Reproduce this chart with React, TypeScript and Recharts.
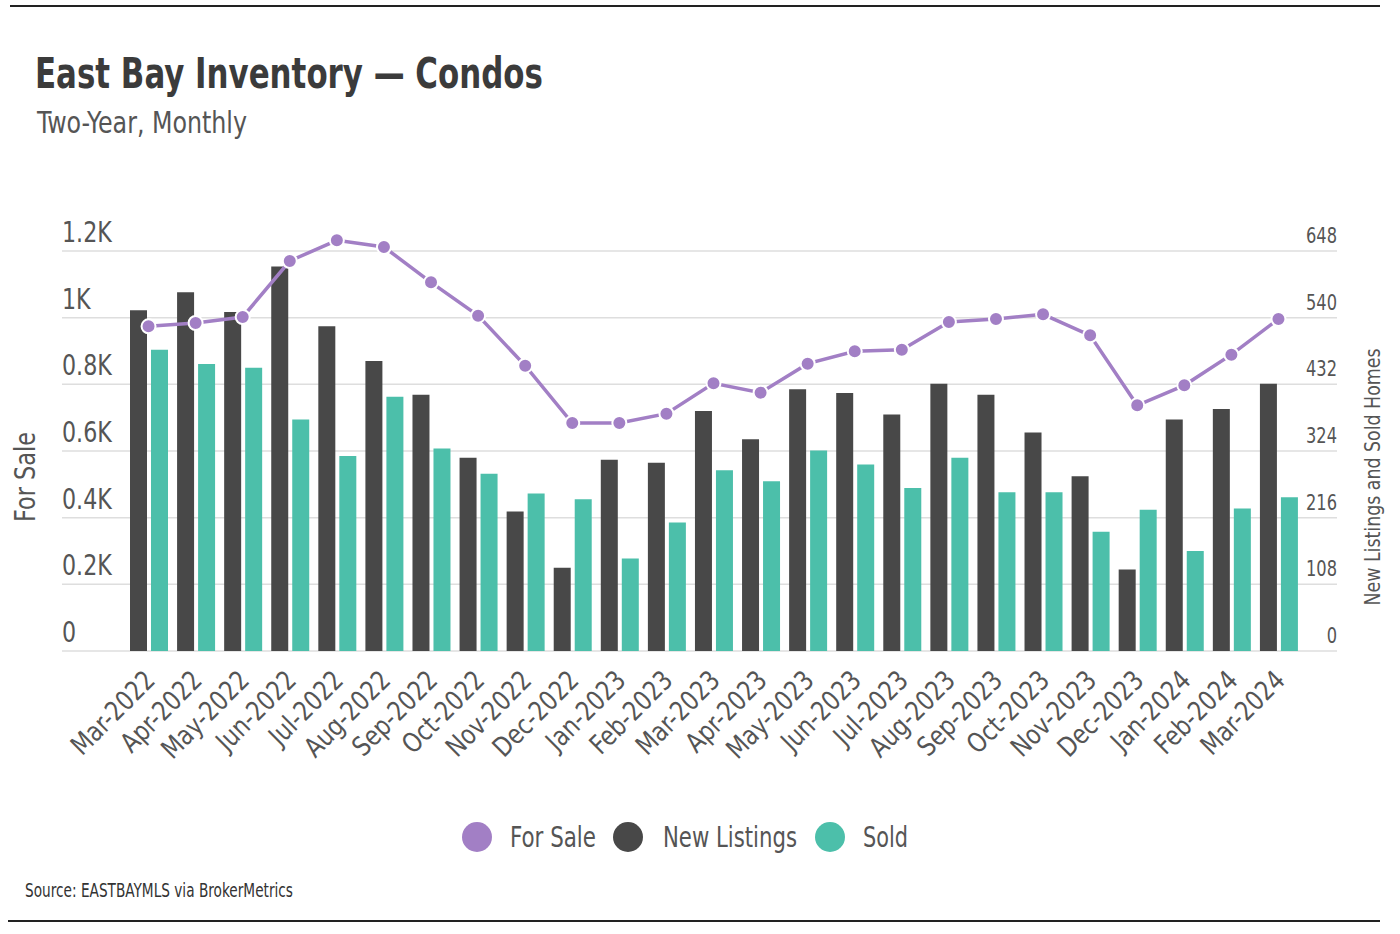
import React from "react";
import { ComposedChart, Bar, Line, XAxis, YAxis, CartesianGrid } from "recharts";

const months = [
  "Mar-2022", "Apr-2022", "May-2022", "Jun-2022", "Jul-2022", "Aug-2022", "Sep-2022",
  "Oct-2022", "Nov-2022", "Dec-2022", "Jan-2023", "Feb-2023", "Mar-2023", "Apr-2023",
  "May-2023", "Jun-2023", "Jul-2023", "Aug-2023", "Sep-2023", "Oct-2023", "Nov-2023",
  "Dec-2023", "Jan-2024", "Feb-2024", "Mar-2024",
];

const forSale = [
  974, 984, 1002, 1170, 1232, 1212, 1106, 1006, 856, 684, 684, 712, 803,
  775, 862, 899, 904, 987, 996, 1010, 947, 737, 797, 889, 996,
];

const newListings = [
  552, 581, 549, 623, 526, 470, 415, 313, 226, 135, 310, 305, 389,
  343, 424, 418, 383, 433, 415, 354, 283, 132, 375, 392, 433,
];

const sold = [
  488, 465, 459, 375, 316, 412, 328, 287, 255, 246, 150, 208, 293,
  275, 325, 302, 264, 313, 257, 257, 193, 229, 162, 231, 249,
];

const leftTicks = [0, 200, 400, 600, 800, 1000, 1200];
const leftTickLabels = ["0", "0.2K", "0.4K", "0.6K", "0.8K", "1K", "1.2K"];
const rightTicks = [0, 108, 216, 324, 432, 540, 648];

const data = months.map((month, i) => ({
  month,
  forSale: forSale[i],
  newListings: newListings[i],
  sold: sold[i],
}));

const FONT = "'DejaVu Sans Condensed', 'Liberation Sans', sans-serif";
const PURPLE = "#a27fc5";
const DARK = "#484848";
const TEAL = "#4cbfaa";
const TEXT = "#555555";

// headroom above the top tick so the July 2022 peak is not clipped
const HEADROOM = 1.04;

const legendItems = [
  { label: "For Sale", color: PURPLE },
  { label: "New Listings", color: DARK },
  { label: "Sold", color: TEAL },
];
// circle centre x, text x, text width
const legendLayout = [
  [477, 510, 86],
  [628, 663, 134],
  [830, 863, 45],
];

const LeftTick = ({ y, payload }: any) => (
  <text
    transform={`translate(62,${y - 9}) scale(0.88,1)`}
    textAnchor="start"
    fontSize={28}
    fill={TEXT}
    fontFamily={FONT}
  >
    {leftTickLabels[leftTicks.indexOf(payload.value)]}
  </text>
);

const RightTick = ({ y, payload }: any) => (
  <text
    transform={`translate(1337,${y - 8}) scale(0.86,1)`}
    textAnchor="end"
    fontSize={21}
    fill={TEXT}
    fontFamily={FONT}
  >
    {payload.value}
  </text>
);

const MonthTick = ({ x, y, payload }: any) => (
  <g transform={`translate(${x + 8},${y + 23}) rotate(-45) scale(0.92,1)`}>
    <text textAnchor="end" fontSize={27} fill={TEXT} fontFamily={FONT}>
      {payload.value}
    </text>
  </g>
);

export default function App() {
  return (
    <div style={{ position: "absolute", left: 0, top: 0, width: 1400, height: 934, background: "#fff", fontFamily: FONT }}>
      <ComposedChart
        width={1400}
        height={934}
        data={data}
        margin={{ top: 235, right: 0, bottom: 133, left: 0 }}
        barSize={17}
        barGap={4}
      >
        <CartesianGrid
          vertical={false}
          yAxisId="left"
          horizontalValues={leftTicks}
          stroke="#dedede"
          strokeWidth={1.5}
        />
        <XAxis
          dataKey="month"
          interval={0}
          height={150}
          tickLine={false}
          axisLine={false}
          padding={{ left: 63, right: 35 }}
          tick={<MonthTick />}
        />
        <YAxis
          yAxisId="left"
          orientation="left"
          width={62}
          domain={[0, 1200 * HEADROOM]}
          ticks={leftTicks}
          tickLine={false}
          axisLine={false}
          tick={<LeftTick />}
          label={{
            content: () => (
              <text
                transform="translate(35,477) rotate(-90)"
                textAnchor="middle"
                fontSize={28}
                fill={TEXT}
                fontFamily={FONT}
                textLength={90}
                lengthAdjust="spacingAndGlyphs"
              >
                For Sale
              </text>
            ),
          }}
        />
        <YAxis
          yAxisId="right"
          orientation="right"
          width={63}
          domain={[0, 648 * HEADROOM]}
          ticks={rightTicks}
          tickLine={false}
          axisLine={false}
          tick={<RightTick />}
          label={{
            content: () => (
              <text
                transform="translate(1380,477) rotate(-90)"
                textAnchor="middle"
                fontSize={21}
                fill={TEXT}
                fontFamily={FONT}
                textLength={257}
                lengthAdjust="spacingAndGlyphs"
              >
                New Listings and Sold Homes
              </text>
            ),
          }}
        />
        <Bar yAxisId="right" dataKey="newListings" name="New Listings" fill={DARK} isAnimationActive={false} />
        <Bar yAxisId="right" dataKey="sold" name="Sold" fill={TEAL} isAnimationActive={false} />
        <Line
          yAxisId="left"
          type="linear"
          dataKey="forSale"
          name="For Sale"
          stroke={PURPLE}
          strokeWidth={3.5}
          dot={{ r: 7, fill: PURPLE, stroke: "#fff", strokeWidth: 2 }}
          activeDot={false}
          isAnimationActive={false}
        />
      </ComposedChart>

      <svg width={1400} height={934} style={{ position: "absolute", left: 0, top: 0, pointerEvents: "none" }}>
        <line x1={10} x2={1380} y1={6} y2={6} stroke="#222" strokeWidth={2} />
        <line x1={8} x2={1380} y1={921} y2={921} stroke="#222" strokeWidth={2} />
        <text
          x={35}
          y={88}
          fontSize={42}
          fontWeight="bold"
          fill="#3b3b3b"
          fontFamily={FONT}
          textLength={508}
          lengthAdjust="spacingAndGlyphs"
        >
          East Bay Inventory — Condos
        </text>
        <text x={37} y={133} fontSize={30} fill={TEXT} fontFamily={FONT} textLength={210} lengthAdjust="spacingAndGlyphs">
          Two-Year, Monthly
        </text>
        <text x={25} y={897} fontSize={19} fill="#333" fontFamily={FONT} textLength={268} lengthAdjust="spacingAndGlyphs">
          Source:  EASTBAYMLS via BrokerMetrics
        </text>
        {legendItems.map((item, i) => {
          const [cx, tx, tw] = legendLayout[i];
          return (
            <g key={item.label}>
              <circle cx={cx} cy={837} r={15} fill={item.color} />
              <text x={tx} y={847} fontSize={29} fill={TEXT} fontFamily={FONT} textLength={tw} lengthAdjust="spacingAndGlyphs">
                {item.label}
              </text>
            </g>
          );
        })}
      </svg>
    </div>
  );
}
